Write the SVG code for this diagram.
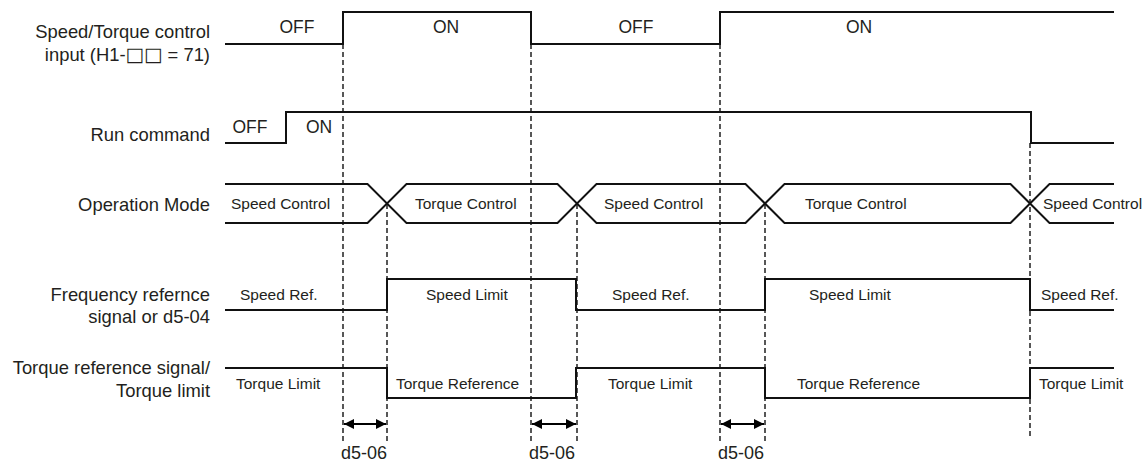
<svg xmlns="http://www.w3.org/2000/svg" width="1144" height="461" viewBox="0 0 1144 461">
<defs>
<style>
text{font-family:"Liberation Sans",Arial,sans-serif;fill:#231f20}
.lbl{font-size:18.4px;text-anchor:end}
.sq{font-family:"DejaVu Sans",sans-serif;font-size:19.5px}
.st{font-size:17.5px;text-anchor:middle}
.in{font-size:15.5px}
.dim{font-size:18px}
.sig{fill:none;stroke:#111;stroke-width:2;stroke-linejoin:miter}
.dash{fill:none;stroke:#111;stroke-width:1.4;stroke-dasharray:5,3}
.arr{fill:none;stroke:#000;stroke-width:2;marker-start:url(#ah);marker-end:url(#ah)}
</style>
<marker id="ah" viewBox="0 0 10 10" refX="10" refY="5" markerWidth="5" markerHeight="5" orient="auto-start-reverse" markerUnits="strokeWidth">
<path d="M0,0 L10,5 L0,10 Z" fill="#000"/>
</marker>
</defs>
<rect width="1144" height="461" fill="#fff"/>

<g id="connectors">
<path class="dash" d="M343,44 V443"/>
<path class="dash" d="M387,204 V443"/>
<path class="dash" d="M531,44 V443"/>
<path class="dash" d="M577,204 V443"/>
<path class="dash" d="M720,44 V443"/>
<path class="dash" d="M765,204 V443"/>
<path class="dash" d="M1030,143 V437"/>
<path class="arr" d="M344,424 H386"/>
<path class="arr" d="M532,424 H576"/>
<path class="arr" d="M721,424 H764"/>
</g>

<g id="speed-torque-input">
<text class="lbl" x="210" y="38">Speed/Torque control</text>
<text class="lbl" x="210" y="61">input (H1-<tspan class="sq">□□</tspan> = 71)</text>
<path class="sig" d="M225,44 H343 V12 H531 V44 H720 V12 H1114"/>
<text class="st" x="297" y="33">OFF</text>
<text class="st" x="446" y="33">ON</text>
<text class="st" x="636" y="33">OFF</text>
<text class="st" x="859" y="33">ON</text>
</g>

<g id="run-command">
<text class="lbl" x="210" y="141">Run command</text>
<path class="sig" d="M225,143 H286 V112 H1031 V143 H1114"/>
<text class="st" x="250" y="133">OFF</text>
<text class="st" x="319" y="133">ON</text>
</g>

<g id="operation-mode">
<text class="lbl" x="210" y="211">Operation Mode</text>
<path class="sig" d="M225,184 H367.5 L406.5,223 H557.5 L596.5,184 H745.5 L784.5,223 H1010.5 L1049.5,184 H1114"/>
<path class="sig" d="M225,223 H367.5 L406.5,184 H557.5 L596.5,223 H745.5 L784.5,184 H1010.5 L1049.5,223 H1114"/>
<text class="in" x="231" y="209">Speed Control</text>
<text class="in" x="415" y="209">Torque Control</text>
<text class="in" x="604" y="209">Speed Control</text>
<text class="in" x="805" y="209">Torque Control</text>
<text class="in" x="1043" y="209">Speed Control</text>
</g>

<g id="frequency-reference">
<text class="lbl" x="210" y="301">Frequency refernce</text>
<text class="lbl" x="210" y="323">signal or d5-04</text>
<path class="sig" d="M225,310 H387 V279 H576 V310 H765 V279 H1030 V310 H1114"/>
<text class="in" x="240" y="300">Speed Ref.</text>
<text class="in" x="426" y="300">Speed Limit</text>
<text class="in" x="612" y="300">Speed Ref.</text>
<text class="in" x="809" y="300">Speed Limit</text>
<text class="in" x="1041" y="300">Speed Ref.</text>
</g>

<g id="torque-reference">
<text class="lbl" x="210" y="374">Torque reference signal/</text>
<text class="lbl" x="210" y="397">Torque limit</text>
<path class="sig" d="M225,368 H387 V398 H576 V368 H765 V398 H1030 V368 H1114"/>
<text class="in" x="236" y="389">Torque Limit</text>
<text class="in" x="396" y="389">Torque Reference</text>
<text class="in" x="608" y="389">Torque Limit</text>
<text class="in" x="797" y="389">Torque Reference</text>
<text class="in" x="1039" y="389">Torque Limit</text>
</g>

<g id="delay-labels">
<text class="dim" x="341" y="459">d5-06</text>
<text class="dim" x="529" y="459">d5-06</text>
<text class="dim" x="718" y="459">d5-06</text>
</g>
</svg>
